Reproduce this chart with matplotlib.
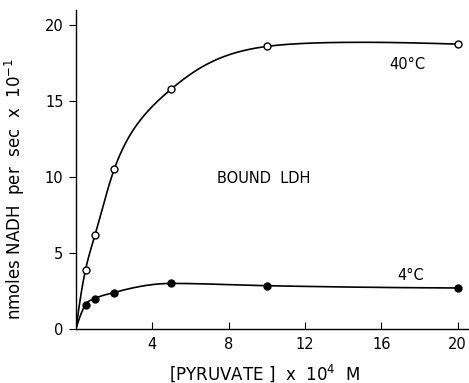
import numpy as np
import matplotlib
matplotlib.use("Agg")
import matplotlib.pyplot as plt

# data
pyruvate = [0.5, 1, 2, 5, 10, 20]
rate_40C = [3.9, 6.2, 10.5, 15.8, 18.6, 18.75]
rate_4C = [1.6, 2.0, 2.4, 3.0, 2.85, 2.7]
xticks = [4, 8, 12, 16, 20]
yticks = [0, 5, 10, 15, 20]


def natural_spline(x, y, xs):
    x = np.asarray(x, float); y = np.asarray(y, float)
    n = len(x); h = np.diff(x)
    A = np.zeros((n, n)); b = np.zeros(n)
    A[0, 0] = 1; A[-1, -1] = 1
    for i in range(1, n - 1):
        A[i, i - 1] = h[i - 1]; A[i, i] = 2 * (h[i - 1] + h[i]); A[i, i + 1] = h[i]
        b[i] = 6 * ((y[i + 1] - y[i]) / h[i] - (y[i] - y[i - 1]) / h[i - 1])
    M = np.linalg.solve(A, b)
    idx = np.clip(np.searchsorted(x, xs) - 1, 0, n - 2)
    x0 = x[idx]; x1 = x[idx + 1]; hh = h[idx]
    return (M[idx] * (x1 - xs)**3 / (6 * hh) + M[idx + 1] * (xs - x0)**3 / (6 * hh)
            + (y[idx] / hh - M[idx] * hh / 6) * (x1 - xs)
            + (y[idx + 1] / hh - M[idx + 1] * hh / 6) * (xs - x0))


def saturating_curve(x, y, xs, top):
    """Spline through the points in the linearised coordinate -ln(1 - y/top)."""
    z = -np.log(1 - np.asarray(y, float) / top)
    return top * (1 - np.exp(-natural_spline(x, z, xs)))


def hermite_curve(x, y, xs):
    """Hermite cubic with Bessel tangents, limited Fritsch-Carlson style."""
    x = np.asarray(x, float); y = np.asarray(y, float)
    h = np.diff(x); d = np.diff(y) / h
    n = len(x); m = np.zeros(n)
    for k in range(1, n - 1):
        m[k] = (h[k] * d[k - 1] + h[k - 1] * d[k]) / (h[k - 1] + h[k])
    m[0] = ((2 * h[0] + h[1]) * d[0] - h[0] * d[1]) / (h[0] + h[1])
    m[-1] = ((2 * h[-1] + h[-2]) * d[-1] - h[-1] * d[-2]) / (h[-1] + h[-2])
    for k in range(n - 1):
        if d[k] == 0:
            m[k] = m[k + 1] = 0
            continue
        a = m[k] / d[k]; b = m[k + 1] / d[k]
        if a < 0:
            m[k] = 0; a = 0
        if b < 0:
            m[k + 1] = 0; b = 0
        s = a * a + b * b
        if s > 9:
            tau = 3 / np.sqrt(s)
            m[k] = tau * a * d[k]; m[k + 1] = tau * b * d[k]
    idx = np.clip(np.searchsorted(x, xs) - 1, 0, n - 2)
    t = (xs - x[idx]) / h[idx]
    h00 = 2 * t**3 - 3 * t**2 + 1; h10 = t**3 - 2 * t**2 + t
    h01 = -2 * t**3 + 3 * t**2; h11 = t**3 - t**2
    return h00 * y[idx] + h10 * h[idx] * m[idx] + h01 * y[idx + 1] + h11 * h[idx] * m[idx + 1]


plt.rcParams['font.family'] = ['DejaVu Sans']
fig = plt.figure(figsize=(4.69, 3.83), dpi=100)
ax = fig.add_axes([0.162, 0.141, 0.838, 0.833])
ax.set_xlim(0, 20.6)
ax.set_ylim(0, 21)

xs = np.linspace(0, 20, 800)
xx = [0] + pyruvate
ax.plot(xs, saturating_curve(xx, [0] + rate_40C, xs, 19.2), color='black', lw=1.2, zorder=2)
ax.plot(pyruvate, rate_40C, 'o', ms=5, mfc='white', mec='black', mew=1.0, zorder=3)
ax.plot(xs, hermite_curve(xx, [0] + rate_4C, xs), color='black', lw=1.2, zorder=2)
ax.plot(pyruvate, rate_4C, 'o', ms=5, mfc='black', mec='black', mew=1.0, zorder=3)

ax.spines['top'].set_visible(False)
ax.spines['right'].set_visible(False)
ax.spines['left'].set_linewidth(1.0)
ax.spines['bottom'].set_linewidth(1.0)
ax.set_xticks(xticks)
ax.set_yticks(yticks)
ax.tick_params(axis='x', direction='in', length=5, labelsize=10.5, pad=6)
ax.tick_params(axis='y', direction='out', length=5, labelsize=10.5, pad=4)

ax.text(16.4, 17.1, '40°C', fontsize=10.5)
ax.text(7.4, 9.6, 'BOUND  LDH', fontsize=10.5)
ax.text(16.85, 3.2, '4°C', fontsize=10.5)

ax.set_xlabel('[PYRUVATE ]  x  10$^4$  M', fontsize=12)
ax.xaxis.set_label_coords(0.48, -0.105)
ax.set_ylabel('nmoles NADH  per  sec  x  10$^{-1}$', fontsize=12)
ax.yaxis.set_label_coords(-0.125, 0.44)

fig.savefig('out.png', dpi=100)
